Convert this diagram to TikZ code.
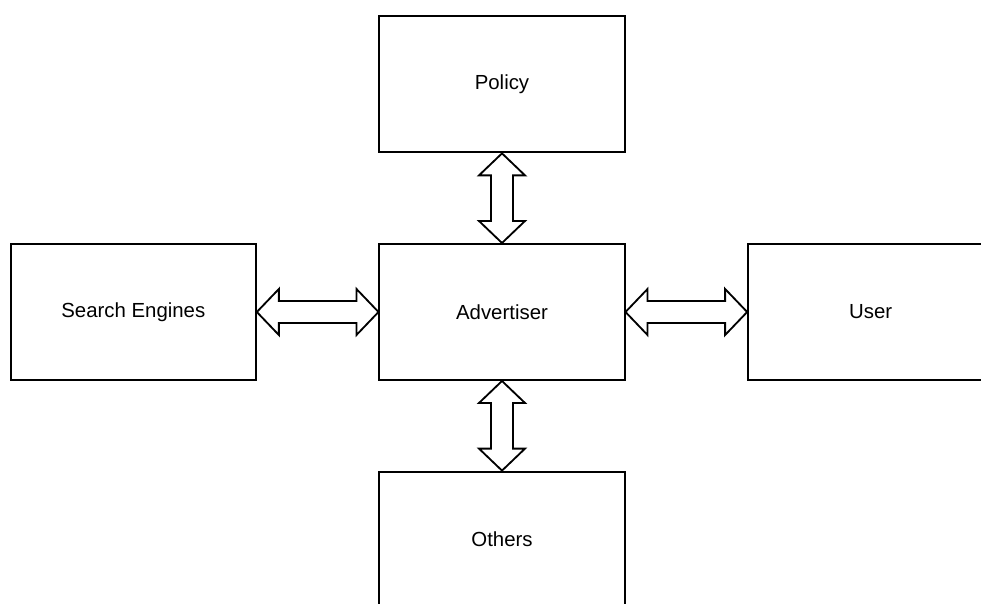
\documentclass[tikz,border=0pt]{standalone}
\usepackage{fontspec}
\setmainfont{Liberation Sans}
\usetikzlibrary{calc,positioning}
\tikzset{
  box/.style={
    draw=black,
    line width=1.4pt,
    fill=white,
    align=center,
    minimum width=6.125cm,
    minimum height=3.4cm,
    inner sep=0pt,
    font=\fontsize{14.5}{17}\selectfont
  },
  fat/.style={
    draw=black,
    line width=1.3pt,
    fill=white,
    line join=miter
  }
}

\begin{document}
\begin{tikzpicture}[x=0.025cm, y=0.025cm, node distance=2.24cm and 3.04cm]
\useasboundingbox (0,0) rectangle (981,604);
\clip (0,0) rectangle (981,604);
\node[box] (adv) at (502,292) {Advertiser};
\node[box, above=of adv] (pol) {Policy};
\node[box, below=of adv] (oth) {Others};
\node[box, left=of adv] (srch) {Search Engines};
\node[box, right=of adv] (usr) {User};
% vertical double arrows
\draw[fat] (pol.south) -- ++(23,-22) -- ++(-12,0) -- ($(adv.north)+(11,22)$) -- ++(12,0) -- (adv.north)
  -- ++(-23,22) -- ++(12,0) -- ($(pol.south)+(-11,-22)$) -- ++(-12,0) -- cycle;
\draw[fat] (adv.south) -- ++(23,-22) -- ++(-12,0) -- ($(oth.north)+(11,22)$) -- ++(12,0) -- (oth.north)
  -- ++(-23,22) -- ++(12,0) -- ($(adv.south)+(-11,-22)$) -- ++(-12,0) -- cycle;
% horizontal double arrows
\draw[fat] (srch.east) -- ++(22,23) -- ++(0,-12) -- ($(adv.west)+(-22,11)$) -- ++(0,12) -- (adv.west)
  -- ++(-22,-23) -- ++(0,12) -- ($(srch.east)+(22,-11)$) -- ++(0,-12) -- cycle;
\draw[fat] (adv.east) -- ++(22,23) -- ++(0,-12) -- ($(usr.west)+(-22,11)$) -- ++(0,12) -- (usr.west)
  -- ++(-22,-23) -- ++(0,12) -- ($(adv.east)+(22,-11)$) -- ++(0,-12) -- cycle;
\end{tikzpicture}
\end{document}
